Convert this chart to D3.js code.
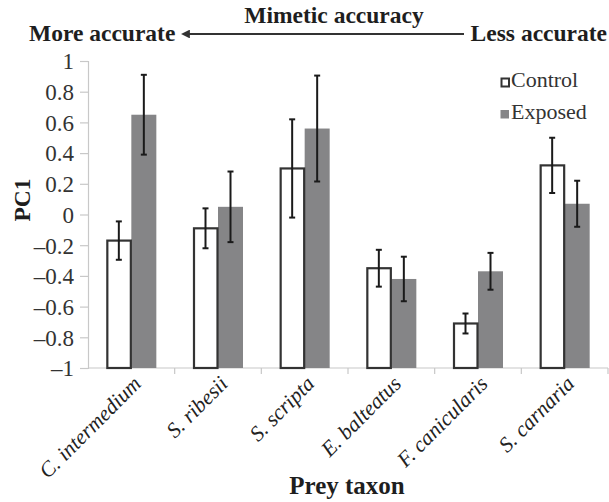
<!DOCTYPE html>
<html>
<head>
<meta charset="utf-8">
<script src="https://cdn.jsdelivr.net/npm/d3@7"></script>
</head>
<body style="margin:0;background:#fff">
<svg id="chart" width="609" height="502" font-family="Liberation Serif"></svg>
<script>
const categories = ["C. intermedium", "S. ribesii", "S. scripta", "E. balteatus", "F. canicularis", "S. carnaria"];
const seriesNames = ["Control", "Exposed"];
const controlValues = [-0.17, -0.09, 0.30, -0.35, -0.71, 0.32];
const controlErrors = [0.125, 0.13, 0.32, 0.12, 0.065, 0.18];
const exposedValues = [0.65, 0.05, 0.56, -0.42, -0.37, 0.07];
const exposedErrors = [0.26, 0.23, 0.345, 0.145, 0.12, 0.15];
const yTicks = [-1, -0.8, -0.6, -0.4, -0.2, 0, 0.2, 0.4, 0.6, 0.8, 1];

const FONT = "Liberation Serif";
const svg = d3.select("#chart");
const W = 609;
const x0 = 88, x1 = W - 1;
const yTop = 61, yBot = 368;

const x = d3.scaleBand().domain(categories).range([x0, x1]).paddingInner(0.423).paddingOuter(0.2115);
const xs = d3.scaleBand().domain(seriesNames).range([0, x.bandwidth()]);
const y = d3.scaleLinear().domain([-1, 1]).range([yBot, yTop]);

const gridColor = "#c8c8c8";

// Y axis
const yAxis = d3.axisLeft(y).tickValues(yTicks).tickSize(8).tickPadding(6)
  .tickFormat(d => d === 0 ? "0" : (d < 0 ? "\u2013" : "") + String(Math.abs(d)));
const gy = svg.append("g").attr("transform", `translate(${x0},0)`).call(yAxis)
  .attr("font-family", FONT);
gy.select(".domain").attr("stroke", gridColor).attr("stroke-width", 1.2);
gy.selectAll(".tick line").attr("stroke", gridColor).attr("stroke-width", 1.2);
gy.selectAll(".tick text").attr("font-size", 23).attr("fill", "#333").attr("font-family", FONT)
  .attr("dy", "0.34em");

// X axis line with category boundary ticks
const xAxisG = svg.append("g");
xAxisG.append("line").attr("x1", x0).attr("x2", x1).attr("y1", yBot).attr("y2", yBot)
  .attr("stroke", gridColor).attr("stroke-width", 1.2);
const boundaries = d3.range(categories.length + 1).map(i => x0 + i * (x1 - x0) / categories.length);
xAxisG.selectAll("line.bt").data(boundaries.slice(1)).join("line").attr("class", "bt")
  .attr("x1", d => d).attr("x2", d => d).attr("y1", yBot).attr("y2", yBot + 6)
  .attr("stroke", gridColor).attr("stroke-width", 1.2);

// Bars
const groups = svg.append("g").selectAll("g").data(categories).join("g")
  .attr("transform", d => `translate(${x(d)},0)`);

groups.append("rect")
  .attr("x", xs("Exposed")).attr("width", xs.bandwidth())
  .attr("y", (d, i) => y(exposedValues[i])).attr("height", (d, i) => y(-1) - y(exposedValues[i]))
  .attr("fill", "#858587");

groups.append("rect")
  .attr("x", xs("Control") + 1).attr("width", xs.bandwidth() - 1.5)
  .attr("y", (d, i) => y(controlValues[i])).attr("height", (d, i) => y(-1) - y(controlValues[i]))
  .attr("fill", "#fff").attr("stroke", "#333").attr("stroke-width", 2.2);

// Error bars
function errBars(vals, errs, name) {
  const cx = xs(name) + xs.bandwidth() / 2;
  const g = groups.append("g").attr("stroke", "#1a1a1a").attr("stroke-width", 2);
  g.append("line").attr("x1", cx).attr("x2", cx)
    .attr("y1", (d, i) => y(vals[i] + errs[i])).attr("y2", (d, i) => y(vals[i] - errs[i]));
  g.append("line").attr("x1", cx - 3).attr("x2", cx + 3)
    .attr("y1", (d, i) => y(vals[i] + errs[i])).attr("y2", (d, i) => y(vals[i] + errs[i]));
  g.append("line").attr("x1", cx - 3).attr("x2", cx + 3)
    .attr("y1", (d, i) => y(vals[i] - errs[i])).attr("y2", (d, i) => y(vals[i] - errs[i]));
}
errBars(controlValues, controlErrors, "Control");
errBars(exposedValues, exposedErrors, "Exposed");

// X category labels (rotated, italic)
svg.append("g").selectAll("text").data(categories).join("text")
  .attr("transform", d => `translate(${x(d) + x.bandwidth() / 2 + 11},${yBot + 17}) rotate(-45)`)
  .attr("text-anchor", "end").attr("font-size", 21.5).attr("font-style", "italic")
  .attr("font-family", FONT).attr("fill", "#222").text(d => d);

function boldText(tx, ty, anchor, str, size) {
  return svg.append("text").attr("x", tx).attr("y", ty).attr("text-anchor", anchor)
    .attr("font-size", size).attr("font-weight", "bold").attr("font-family", FONT)
    .attr("fill", "#1e1e1e").text(str);
}
// Axis titles
boldText(347, 494, "middle", "Prey taxon", 25);
svg.append("text").attr("transform", "translate(30,200) rotate(-90)").attr("text-anchor", "middle")
  .attr("font-size", 23.5).attr("font-weight", "bold").attr("font-family", FONT)
  .attr("fill", "#1e1e1e").text("PC1");

// Top annotation
boldText(334, 23, "middle", "Mimetic accuracy", 23.5);
boldText(29, 41, "start", "More accurate", 23.5);
boldText(607, 41, "end", "Less accurate", 23.5);
svg.append("defs").append("marker").attr("id", "ah").attr("viewBox", "0 0 10 10")
  .attr("refX", 1).attr("refY", 5).attr("markerWidth", 4).attr("markerHeight", 4)
  .attr("orient", "auto-start-reverse").append("path").attr("d", "M0,0 L10,5 L0,10 z").attr("fill", "#333");
svg.append("line").attr("x1", 464).attr("x2", 189).attr("y1", 34).attr("y2", 34)
  .attr("stroke", "#333").attr("stroke-width", 2.2).attr("marker-end", "url(#ah)");

// Legend
const legend = svg.append("g");
legend.append("rect").attr("x", 501.5).attr("y", 78.5).attr("width", 7.5).attr("height", 8)
  .attr("fill", "#fff").attr("stroke", "#333").attr("stroke-width", 2);
legend.append("text").attr("x", 511).attr("y", 87).attr("font-size", 22).attr("font-family", FONT)
  .attr("fill", "#333").text("Control");
legend.append("rect").attr("x", 500.5).attr("y", 110).attr("width", 8.5).attr("height", 8.5)
  .attr("fill", "#858587");
legend.append("text").attr("x", 511).attr("y", 119).attr("font-size", 22).attr("font-family", FONT)
  .attr("fill", "#333").text("Exposed");
</script>
</body>
</html>
